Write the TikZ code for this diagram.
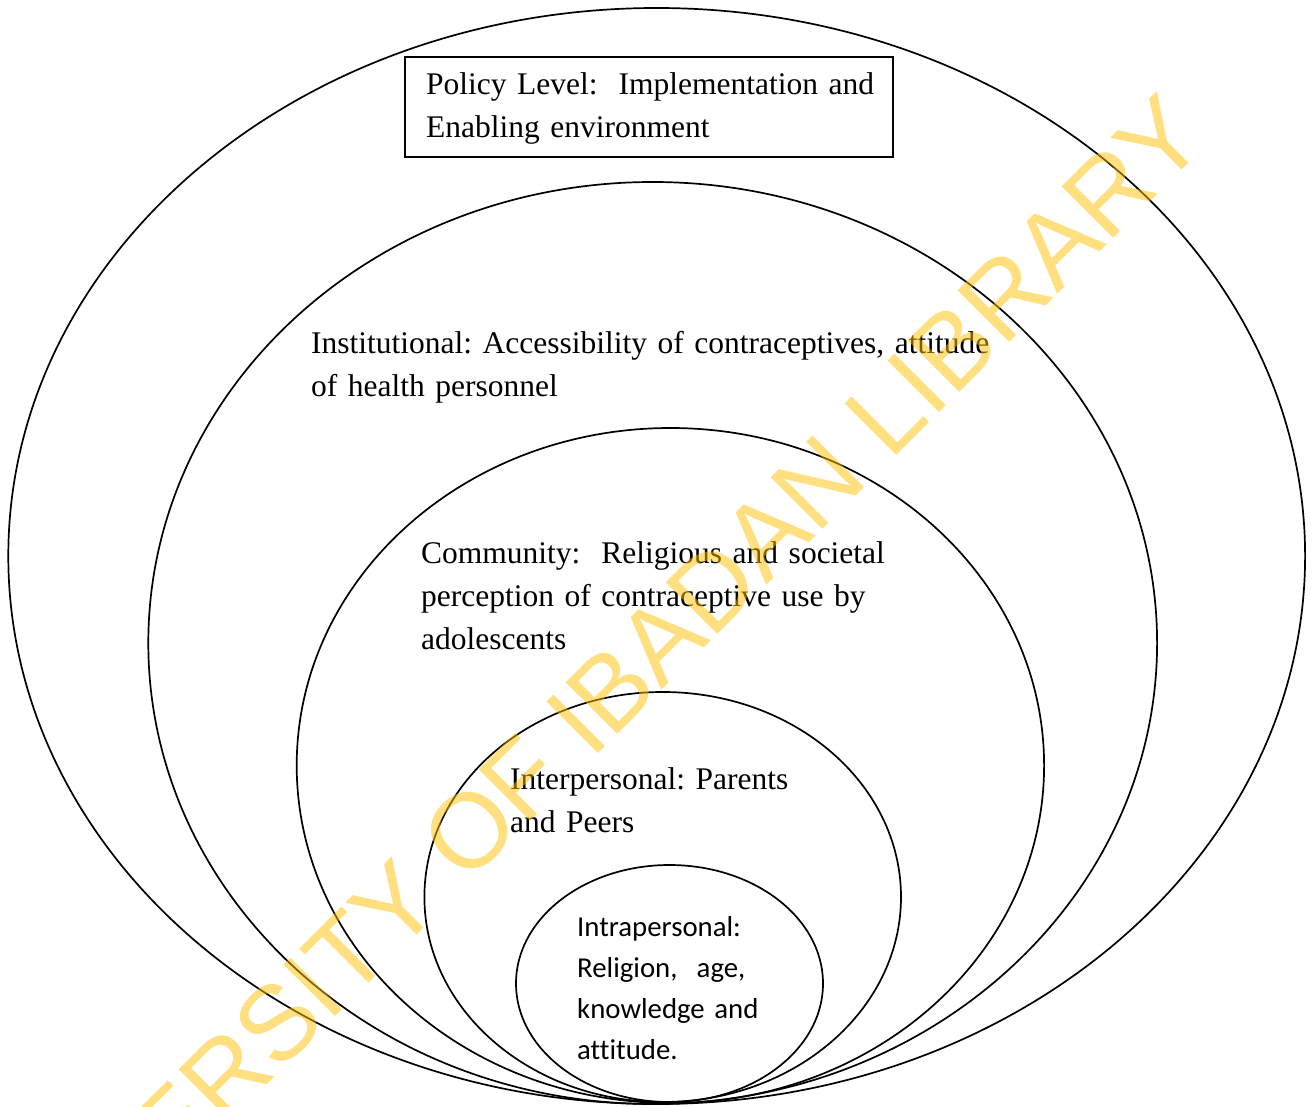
\documentclass[tikz,border=0pt]{standalone}
\usepackage{fontspec}
\setmainfont{Liberation Serif}
\newfontfamily\bodyfont[Ligatures=NoCommon]{Liberation Serif}
\newfontfamily\calfont[Ligatures=NoCommon]{Carlito}
\newfontfamily\markfont{Liberation Sans}
\usetikzlibrary{shapes.geometric}
\definecolor{wmgold}{HTML}{FFC000}
\begin{document}
\begin{tikzpicture}[x=1pt,y=-1pt,
  ring/.style={draw=black, line width=1.7pt, ellipse, inner sep=0pt, outer sep=0pt},
  serif label/.style={anchor=base west, inner sep=0pt, align=left, text width=720pt,
    font=\bodyfont\fontsize{31.5}{43}\selectfont\frenchspacing},
  sans label/.style={anchor=base west, inner sep=0pt, align=left, text width=300pt,
    font=\calfont\fontsize{28.8}{41}\selectfont\frenchspacing},
  framebox/.style={draw=black, line width=1.7pt, inner sep=0pt, anchor=north west},
  stamp/.style={font=\markfont\fontsize{106}{106}\selectfont, text=wmgold,
    text opacity=0.5, rotate=45, anchor=base, inner sep=0pt}
]
\useasboundingbox (0,0) rectangle (1314,1107);
\clip (0,0) rectangle (1314,1107);

% nested levels, all touching at the bottom
\node[ring, minimum width=1296.8pt, minimum height=1096pt] (policyring) at (656.7,556) {};
\node[ring, minimum width=1008.8pt, minimum height=922pt]  (instring)   at (652.7,643) {};
\node[ring, minimum width=747.4pt,  minimum height=675pt]  (commring)   at (670.4,765.5) {};
\node[ring, minimum width=476.6pt,  minimum height=410pt]  (interring)  at (662.7,897) {};
\node[ring, minimum width=307pt,    minimum height=237pt]  (intraring)  at (669.5,983.5) {};

% policy heading box
\node[framebox, minimum width=488pt, minimum height=100pt] (policybox) at (404,56) {};

% level labels
\node[serif label] (policy) at (426,95) {Policy Level:\ \ Implementation and\\Enabling environment};
\node[serif label] (inst) at (311,353) {Institutional: Accessibility of contraceptives, attitude\\of health personnel};
\node[serif label] (comm) at (421,563) {Community:\ \ Religious and societal\\perception of contraceptive use by\\adolescents};
\node[serif label] (inter) at (510,789) {Interpersonal: Parents\\and Peers};
\node[sans label] (intra) at (577,936) {Intrapersonal:\\Religion,\ \ age,\\knowledge and\\attitude.};

% library stamp across the page
\node[stamp] (watermark) at (603,749) {UNIVERSITY OF IBADAN LIBRARY};
\end{tikzpicture}
\end{document}
